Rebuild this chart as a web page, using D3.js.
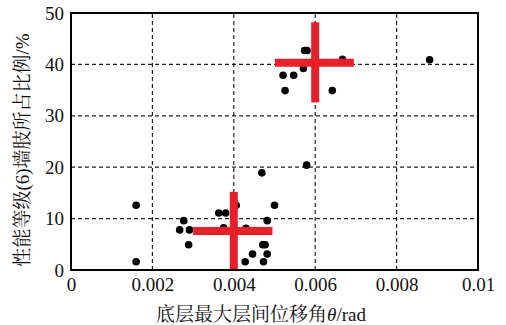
<!DOCTYPE html>
<html><head><meta charset="utf-8">
<script src="https://cdn.jsdelivr.net/npm/d3@7"></script>
<style>body{margin:0;background:#fff;}svg{display:block;}</style>
</head><body>
<script>
const xTicks = [0, 0.002, 0.004, 0.006, 0.008, 0.01];
const xTickLabels = ["0", "0.002", "0.004", "0.006", "0.008", "0.01"];
const yTicks = [0, 10, 20, 30, 40, 50];
const yTickLabels = ["0", "10", "20", "30", "40", "50"];
const driftX = [0.0016,0.0016,0.00277,0.00267,0.00291,0.00289,0.00363,0.0038,0.00406,0.00375,0.0043,0.0050,0.00482,0.00471,0.00477,0.00482,0.00446,0.00428,0.00473,0.00469,0.00579,0.00574,0.0058,0.00571,0.00521,0.00547,0.00526,0.00642,0.00667,0.00881];
const ratioY = [12.6,1.6,9.6,7.8,7.8,4.9,11.1,11.1,12.6,8.2,8.1,12.6,9.6,4.9,4.9,3.1,3.1,1.6,1.6,18.9,20.4,42.7,42.7,39.2,37.9,37.9,34.9,34.9,41.0,40.9];
// crosses: center x, x range, center y, y range
const crossCx = [0.004, 0.006];
const crossX0 = [0.003, 0.00501];
const crossX1 = [0.00495, 0.00695];
const crossCy = [7.6, 40.3];
const crossY0 = [0, 32.6];
const crossY1 = [15.2, 48.2];

const W = 506, H = 325;
const m = {l: 71, t: 13, r: 28, b: 55};
const svg = d3.select("body").append("svg").attr("width", W).attr("height", H);
const x = d3.scaleLinear().domain([0, 0.01]).range([m.l, W - m.r]);
const y = d3.scaleLinear().domain([0, 50]).range([H - m.b, m.t]);
const serif = "'Liberation Serif','Times New Roman','Noto Serif CJK SC','Noto Sans CJK SC',serif";

// grid
const g = svg.append("g");
g.selectAll(".gx").data(xTicks.slice(1, -1)).join("line")
  .attr("x1", d => x(d)).attr("x2", d => x(d)).attr("y1", y(0)).attr("y2", y(50))
  .attr("stroke", "#222").attr("stroke-width", 1.2).attr("stroke-dasharray", "4,3");
g.selectAll(".gy").data(yTicks.slice(1, -1)).join("line")
  .attr("y1", d => y(d)).attr("y2", d => y(d)).attr("x1", x(0)).attr("x2", x(0.01))
  .attr("stroke", "#222").attr("stroke-width", 1.2).attr("stroke-dasharray", "4,3");

// axes labels
const xAxis = d3.axisBottom(x).tickValues(xTicks).tickFormat((d, i) => xTickLabels[i]).tickSize(0).tickPadding(8);
const xa = svg.append("g").attr("transform", `translate(0,${y(0)})`).call(xAxis);
xa.select(".domain").remove();
xa.selectAll("text").attr("font-family", serif).attr("font-size", 19).attr("fill", "#111");
const yAxis = d3.axisLeft(y).tickValues(yTicks).tickFormat((d, i) => yTickLabels[i]).tickSize(0).tickPadding(7);
const ya = svg.append("g").attr("transform", `translate(${x(0)},0)`).call(yAxis);
ya.select(".domain").remove();
ya.selectAll("text").attr("font-family", serif).attr("font-size", 19).attr("fill", "#111");

// points
svg.append("g").selectAll("circle").data(driftX.map((d, i) => [d, ratioY[i]])).join("circle")
  .attr("cx", d => x(d[0])).attr("cy", d => y(d[1])).attr("r", 3.8).attr("fill", "#000");

// crosses
const red = "#e8202a";
const cg = svg.append("g");
crossCx.forEach((cx, i) => {
  cg.append("line").attr("x1", x(crossX0[i])).attr("x2", x(crossX1[i]))
    .attr("y1", y(crossCy[i])).attr("y2", y(crossCy[i])).attr("stroke", red).attr("stroke-width", 8);
  cg.append("line").attr("x1", x(cx)).attr("x2", x(cx))
    .attr("y1", y(crossY0[i])).attr("y2", y(crossY1[i])).attr("stroke", red).attr("stroke-width", 8);
});

// frame
svg.append("rect").attr("x", x(0)).attr("y", y(50)).attr("width", x(0.01) - x(0)).attr("height", y(0) - y(50))
  .attr("fill", "none").attr("stroke", "#000").attr("stroke-width", 2);

// titles
const xt = svg.append("text").attr("x", 261).attr("y", 321).attr("text-anchor", "middle")
  .attr("font-family", serif).attr("font-size", 19).attr("fill", "#111");
xt.append("tspan").text("底层最大层间位移角");
xt.append("tspan").attr("font-style", "italic").text("θ");
xt.append("tspan").text("/rad");

svg.append("text").attr("transform", "translate(29,150) rotate(-90)").attr("text-anchor", "middle")
  .attr("font-family", serif).attr("font-size", 19).attr("fill", "#111")
  .text("性能等级(6)墙肢所占比例/%");
</script>
</body></html>
